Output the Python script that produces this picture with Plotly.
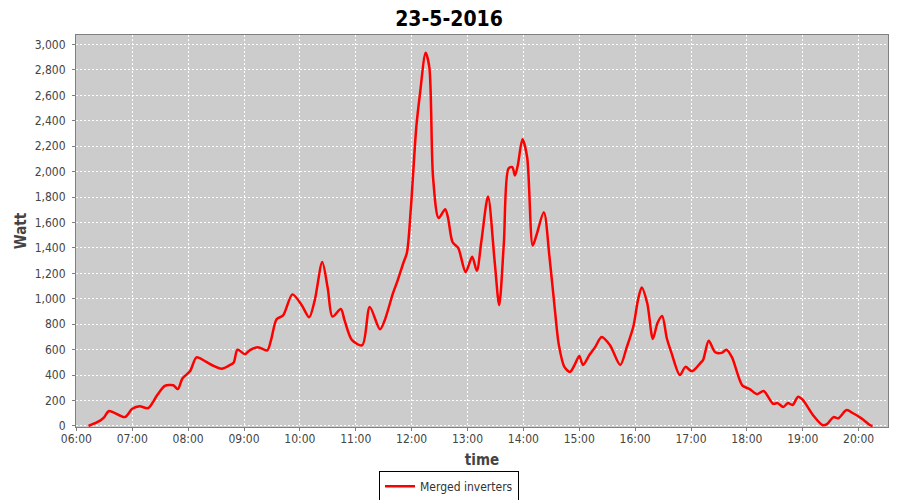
import plotly.graph_objects as go

DATE = "2016-05-23"
times = ["06:13","06:25","06:30","06:35","06:52","07:00","07:08","07:17","07:27","07:35",
         "07:44","07:49","07:54","08:02","08:09","08:18","08:28","08:36","08:45","08:49",
         "08:53","09:01","09:06","09:15","09:25","09:29","09:35","09:42","09:52","10:02",
         "10:10","10:16","10:24","10:30","10:35","10:44","10:48","10:56","11:07","11:15",
         "11:26","11:31","11:40","11:45","11:51","11:55","11:59","12:05","12:09","12:15",
         "12:19","12:23","12:29","12:36","12:39","12:44","12:50","12:58","13:05","13:10",
         "13:15","13:22","13:29","13:34","13:39","13:44","13:48","13:51","13:54","13:59",
         "14:04","14:10","14:14","14:22","14:28","14:34","14:38","14:44","14:50","14:55",
         "15:00","15:04","15:11","15:17","15:24","15:33","15:44","15:51","15:58","16:03",
         "16:07","16:13","16:19","16:24","16:29","16:34","16:39","16:48","16:54","17:01",
         "17:10","17:13","17:19","17:26","17:33","17:38","17:44","17:55","18:03","18:11",
         "18:18","18:28","18:33","18:39","18:44","18:49","18:55","19:00","19:11","19:21",
         "19:26","19:33","19:38","19:47","19:54","20:03","20:12","20:15"]
watts = [0, 40, 70, 118, 70, 135, 155, 140, 245, 315,
         320, 290, 375, 430, 540, 510, 470, 450, 480, 500,
         600, 565, 595, 620, 595, 675, 840, 870, 1035, 950,
         855, 990, 1290, 1080, 860, 920, 830, 675, 635, 935,
         760, 830, 1045, 1145, 1280, 1365, 1695, 2350, 2615, 2935,
         2820, 1955, 1635, 1705, 1640, 1445, 1400, 1210, 1330, 1220,
         1460, 1805, 1305, 950, 1435, 2025, 2035, 1970, 2050, 2255,
         2115, 1420, 1500, 1680, 1330, 900, 640, 465, 425, 480,
         550, 480, 560, 620, 700, 635, 480, 620, 780, 990,
         1090, 965, 685, 810, 865, 690, 575, 400, 465, 430,
         495, 520, 670, 580, 575, 600, 540, 320, 290, 250,
         275, 175, 180, 150, 180, 165, 230, 205, 85, 8,
         15, 70, 60, 125, 100, 60, 8, 0]

title_text = "23-5-2016"
series_name = "Merged inverters"
x_title = "time"
y_title = "Watt"

x = [f"{DATE} {t}:00" for t in times]

fig = go.Figure()
fig.add_trace(go.Scatter(
    x=x, y=watts, mode="lines", name=series_name,
    line=dict(color="#ff0000", width=2.5, shape="spline", smoothing=0.8),
))

font_family = "DejaVu Sans Condensed, DejaVu Sans, sans-serif"
tick_font = dict(family=font_family, size=12, color="#444444")

# page body has an 8px margin; figure sized to fit the 900x500 window
W, H = 892, 492
ML, MR, MT, MB = 68, 12, 27, 73

fig.update_layout(
    width=W, height=H,
    paper_bgcolor="white",
    plot_bgcolor="#cccccc",
    margin=dict(l=ML, r=MR, t=MT, b=MB, autoexpand=False),
    title=dict(text=title_text, x=441 / W, xanchor="center", y=1 - 3 / H, yanchor="top",
               yref="container", pad=dict(t=0, b=0),
               font=dict(family=font_family, size=21, color="black", weight="bold")),
    showlegend=True,
    legend=dict(orientation="h", x=(441 - ML) / (W - ML - MR), xanchor="center",
                y=-0.151, yanchor="middle",
                bgcolor="white", bordercolor="black", borderwidth=1,
                font=dict(family=font_family, size=12, color="#333333"),
                itemwidth=30),
    xaxis=dict(
        type="date", automargin=False,
        range=[f"{DATE} 05:59:36", f"{DATE} 20:31:30"],
        dtick=3600000, tick0=f"{DATE} 06:00:00", tickformat="%H:%M",
        showgrid=True, gridcolor="white", griddash="2px,2px", gridwidth=1,
        showline=True, linecolor="#808080", linewidth=1, mirror=True,
        ticks="outside", ticklen=3, tickcolor="#808080",
        tickfont=tick_font, tickangle=0, ticklabelstandoff=-2,
        zeroline=False,
        title=dict(text=x_title, standoff=9,
                   font=dict(family=font_family, size=15, color="#444444", weight="bold")),
    ),
    yaxis=dict(
        automargin=False,
        range=[-8, 3075],
        dtick=200, tick0=0, tickformat=",d",
        showgrid=True, gridcolor="white", griddash="2px,2px", gridwidth=1,
        showline=True, linecolor="#808080", linewidth=1, mirror=True,
        ticks="outside", ticklen=3, tickcolor="#808080",
        tickfont=tick_font, ticklabelstandoff=4,
        zeroline=False,
        title=dict(text=y_title, standoff=4,
                   font=dict(family=font_family, size=15, color="#444444", weight="bold")),
    ),
)

fig.write_html("out.html")
